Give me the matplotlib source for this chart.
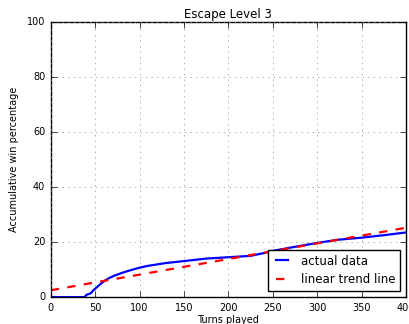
import matplotlib
matplotlib.use("Agg")
import matplotlib.pyplot as plt
import numpy as np

plt.style.use('classic')

# accumulative win percentage
turns = [0, 38, 40, 45, 48, 55, 60, 65, 70, 80, 90, 100, 110, 120, 130, 150, 175,
         200, 225, 240, 250, 270, 300, 325, 350, 375, 400]
win_pct = [0, 0, 0.8, 1.4, 2.5, 4.5, 5.8, 6.8, 7.6, 8.8, 9.8, 10.7, 11.4, 11.9, 12.4,
           13.1, 14.0, 14.5, 15.0, 16.0, 16.8, 18.0, 19.7, 20.9, 21.6, 22.5, 23.5]

trend_x = [0, 400]
trend_y = [2.5, 25.2]

fig = plt.figure(figsize=(4.1, 3.24), dpi=100)
ax = fig.add_subplot(111)
fig.subplots_adjust(left=0.124, right=0.99, top=0.932, bottom=0.083)

ax.plot(turns, win_pct, 'b-', linewidth=1.6, label='actual data')
ax.plot(trend_x, trend_y, 'r--', linewidth=1.6, label='linear trend line')

ax.set_xlim(0, 400)
ax.set_ylim(0, 100)
ax.set_title('Escape Level 3', fontsize=8.5, pad=3)
ax.set_xlabel('Turns played', fontsize=7, labelpad=2)
ax.set_ylabel('Accumulative win percentage', fontsize=7, labelpad=6)
ax.tick_params(labelsize=7)
ax.grid(True, color='0.55')
ax.legend(loc='lower right', fontsize=8.5, handlelength=1.6)

fig.savefig('out.png', dpi=100)
